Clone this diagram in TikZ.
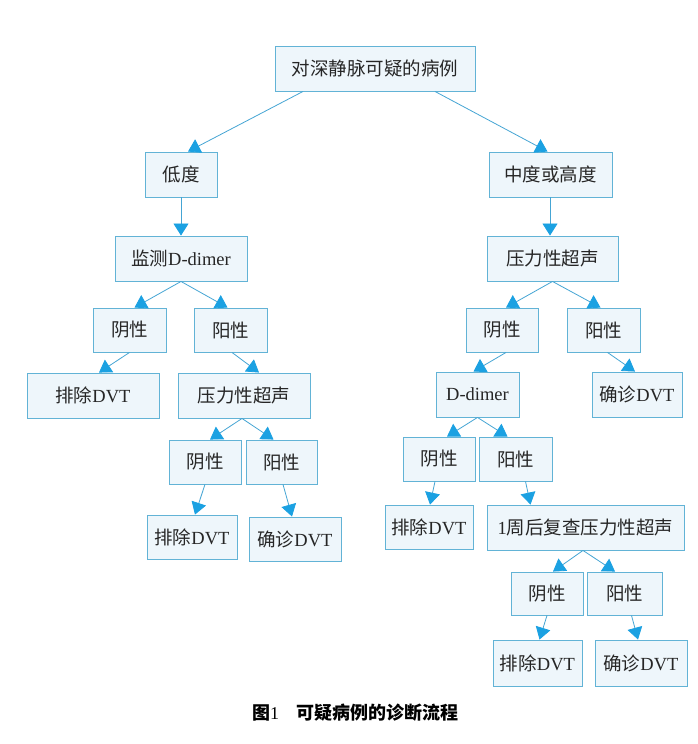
\documentclass[tikz,border=0pt]{standalone}
\usepackage{fontspec}
\setmainfont{Liberation Serif}
\newfontfamily\cjk{Noto Sans CJK SC}
\usetikzlibrary{arrows.meta}
\definecolor{bordercol}{HTML}{62B3D6}
\definecolor{fillcol}{HTML}{EEF6FB}
\definecolor{linecol}{HTML}{45A5D4}
\definecolor{headcol}{HTML}{1BA1E2}
\newcommand{\zh}[1]{{\cjk #1}}
\tikzset{
  box/.style={draw=bordercol, fill=fillcol, line width=0.9pt, inner sep=0pt,
    font=\fontsize{18.5}{20}\selectfont, text=black!85},
  arr/.style={draw=linecol, line width=0.8pt,
    -{Triangle[width=15pt,length=12pt,color=headcol]}},
}
\begin{document}
\begin{tikzpicture}[x=1pt,y=-1pt]
\fill[white] (0,0) rectangle (698,744);
\useasboundingbox (0,0) rectangle (698,744);

\node[box, minimum width=200pt, minimum height=45pt] (root) at (375,68.5) {\zh{对深静脉可疑的病例}};
\node[box, minimum width=72pt, minimum height=45pt] (low) at (181,174.5) {\zh{低度}};
\node[box, minimum width=123pt, minimum height=45pt] (mid) at (550.5,174.5) {\zh{中度或高度}};
\node[box, minimum width=132pt, minimum height=45pt] (mon) at (181,258.5) {\zh{监测}D-dimer};
\node[box, minimum width=131pt, minimum height=45pt] (pusR) at (552.5,258.5) {\zh{压力性超声}};

\node[box, minimum width=73pt, minimum height=44pt] (negL) at (129.5,330) {\zh{阴性}};
\node[box, minimum width=73pt, minimum height=44pt] (posL) at (230.5,330) {\zh{阳性}};
\node[box, minimum width=132pt, minimum height=45pt] (exL) at (93,395.5) {\zh{排除}DVT};
\node[box, minimum width=132pt, minimum height=45pt] (pusL) at (244,395.5) {\zh{压力性超声}};

\node[box, minimum width=72pt, minimum height=44pt] (negR) at (502,330) {\zh{阴性}};
\node[box, minimum width=73pt, minimum height=44pt] (posR) at (603.5,330) {\zh{阳性}};
\node[box, minimum width=83pt, minimum height=45pt] (ddR) at (477.5,394.5) {D-dimer};
\node[box, minimum width=90pt, minimum height=45pt] (cfR) at (637,394.5) {\zh{确诊}DVT};

\node[box, minimum width=72pt, minimum height=44pt] (negL2) at (205,462) {\zh{阴性}};
\node[box, minimum width=71pt, minimum height=44pt] (posL2) at (281.5,462) {\zh{阳性}};
\node[box, minimum width=90pt, minimum height=44pt] (exL2) at (192,537) {\zh{排除}DVT};
\node[box, minimum width=92pt, minimum height=44pt] (cfL2) at (295,539) {\zh{确诊}DVT};

\node[box, minimum width=72pt, minimum height=44pt] (negR2) at (439,459) {\zh{阴性}};
\node[box, minimum width=73pt, minimum height=44pt] (posR2) at (515.5,459) {\zh{阳性}};
\node[box, minimum width=88pt, minimum height=44pt] (exR2) at (429,527) {\zh{排除}DVT};
\node[box, minimum width=197pt, minimum height=45pt] (week) at (585.5,527.5) {1\zh{周后复查压力性超声}};

\node[box, minimum width=72pt, minimum height=43pt] (negR3) at (547,593.5) {\zh{阴性}};
\node[box, minimum width=75pt, minimum height=43pt] (posR3) at (624.5,593.5) {\zh{阳性}};
\node[box, minimum width=89pt, minimum height=46pt] (exR3) at (537.5,663) {\zh{排除}DVT};
\node[box, minimum width=92pt, minimum height=46pt] (cfR3) at (641,663) {\zh{确诊}DVT};

% connectors
\draw[arr] ([xshift=-72pt]root.south) -- ([xshift=7pt]low.north);
\draw[arr] ([xshift=60pt]root.south) -- ([xshift=-3pt]mid.north);
\draw[arr] (low.south) -- (mon.north);
\draw[arr] ([xshift=-0.5pt]mid.south) -- ([xshift=-2.5pt]pusR.north);

\draw[arr] (mon.south) -- ([xshift=5pt]negL.north);
\draw[arr] (mon.south) -- ([xshift=-3pt]posL.north);
\draw[arr] (negL.south) -- ([xshift=6pt]exL.north);
\draw[arr] ([xshift=1.5pt]posL.south) -- ([xshift=15pt]pusL.north);

\draw[arr] ([xshift=-2pt]pusL.south) -- ([xshift=5pt]negL2.north);
\draw[arr] ([xshift=-2pt]pusL.south) -- ([xshift=-8pt]posL2.north);
\draw[arr] (negL2.south) -- ([xshift=3pt]exL2.north);
\draw[arr] ([xshift=1.5pt]posL2.south) -- ([xshift=-3pt]cfL2.north);

\draw[arr] (pusR.south) -- ([xshift=4pt]negR.north);
\draw[arr] (pusR.south) -- ([xshift=-3pt]posR.north);
\draw[arr] ([xshift=4pt]negR.south) -- ([xshift=-4pt]ddR.north);
\draw[arr] ([xshift=4pt]posR.south) -- ([xshift=-2pt]cfR.north);

\draw[arr] (ddR.south) -- ([xshift=8pt]negR2.north);
\draw[arr] (ddR.south) -- ([xshift=-8pt]posR2.north);
\draw[arr] ([xshift=-4pt]negR2.south) -- ([xshift=1pt]exR2.north);
\draw[arr] ([xshift=10pt]posR2.south) -- ([xshift=-55pt]week.north);

\draw[arr] ([xshift=-2.5pt]week.south) -- ([xshift=6pt]negR3.north);
\draw[arr] ([xshift=-2.5pt]week.south) -- ([xshift=-9.5pt]posR3.north);
\draw[arr] (negR3.south) -- ([xshift=2pt]exR3.north);
\draw[arr] ([xshift=7pt]posR3.south) -- ([xshift=-3pt]cfR3.north);

\node[font=\fontsize{18}{20}\selectfont\bfseries, text=black] (cap) at (355,713)
  {\zh{图}\textmd{1}\hspace{17pt}\zh{可疑病例的诊断流程}};
\end{tikzpicture}
\end{document}
